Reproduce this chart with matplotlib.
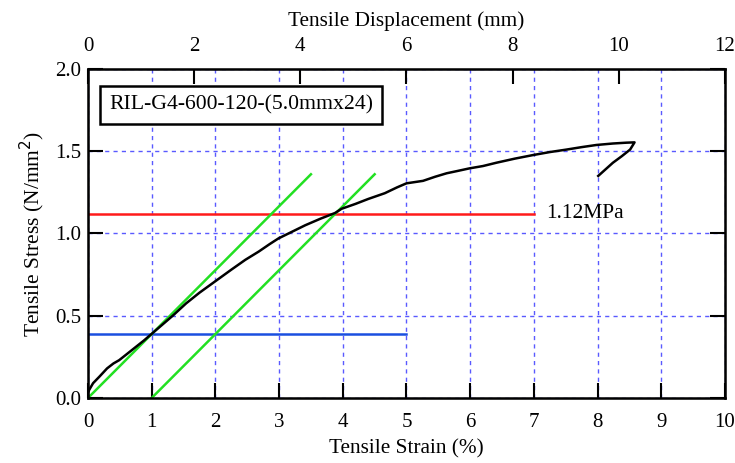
import matplotlib
matplotlib.use("Agg")
import matplotlib.pyplot as plt
import numpy as np

plt.rcParams['font.family'] = ['Liberation Serif', 'DejaVu Serif']

# stress-strain curve
strain = [0.0, 0.0, 0.02, 0.05, 0.08, 0.13, 0.18, 0.3, 0.4, 0.49, 0.62, 0.75, 0.88, 1.0,
          1.15, 1.33, 1.54, 1.75, 2.0, 2.25, 2.47, 2.68, 2.85, 2.99, 3.2, 3.41, 3.65,
          3.88, 3.98, 4.2, 4.4, 4.66, 4.85, 5.0, 5.26, 5.45, 5.63, 5.8, 5.99, 6.2,
          6.41, 6.7, 6.99, 7.25, 7.51, 7.75, 7.98, 8.24, 8.45, 8.58, 8.51, 8.38,
          8.24, 8.01]
stress = [0.0, 0.03, 0.05, 0.07, 0.09, 0.11, 0.13, 0.18, 0.21, 0.23, 0.27, 0.31, 0.35, 0.39,
          0.44, 0.50, 0.575, 0.64, 0.71, 0.78, 0.84, 0.89, 0.935, 0.97, 1.01, 1.05, 1.09,
          1.125, 1.15, 1.18, 1.21, 1.245, 1.28, 1.305, 1.32, 1.345, 1.366, 1.38, 1.396,
          1.41, 1.43, 1.455, 1.477, 1.495, 1.51, 1.525, 1.538, 1.547, 1.552, 1.554, 1.51,
          1.47, 1.43, 1.35]

# reference lines
peak_level = 1.12
peak_end = 7.0
first_level = 0.39
first_end = 5.0
green1_x = [0.0, 3.5]
green1_y = [0.0, 1.36]
green2_x = [1.0, 4.5]
green2_y = [0.0, 1.36]

specimen = 'RIL-G4-600-120-(5.0mmx24)'
peak_label = '1.12MPa'

fig = plt.figure(figsize=(7.35, 4.63), dpi=100)
ax = fig.add_axes([0.1197, 0.1404, 0.8667, 0.7106])

ax.set_xlim(0, 10)
ax.set_ylim(0, 2.0)
ax.set_xticks(np.arange(0, 11, 1))
ax.set_yticks(np.arange(0, 2.01, 0.5))
ax.yaxis.set_major_formatter(matplotlib.ticker.FormatStrFormatter('%.1f'))
ax.grid(True, color='#5a5aff', linestyle=(0, (3, 3)), linewidth=1.0)
ax.tick_params(axis='x', direction='in', length=11, width=1.5, labelsize=15, pad=11)
ax.tick_params(axis='y', direction='in', length=11, width=1.5, labelsize=15,
               right=True, pad=5)
for s in ax.spines.values():
    s.set_linewidth(1.8)

ax.plot([0, peak_end], [peak_level, peak_level], color='#ff1a1a', lw=1.8)
ax.plot([0, first_end], [first_level, first_level], color='#1a4fe0', lw=1.8)
ax.plot(green1_x, green1_y, color='#22e022', lw=1.8)
ax.plot(green2_x, green2_y, color='#22e022', lw=1.8)
ax.plot(strain, stress, color='black', lw=1.8)

ax.text(7.2, peak_level, peak_label, fontsize=15.5, va='center', ha='left')
ax.text(0.33, 1.78, specimen, fontsize=15.7, va='center', ha='left',
        bbox=dict(boxstyle='square,pad=0.42', fc='white', ec='black', lw=1.8))

ax.set_xlabel('Tensile Strain (%)', fontsize=15.3, labelpad=5)
ax.set_ylabel('Tensile Stress (N/mm$^2$)', fontsize=15.5, labelpad=6)

top = ax.twiny()
top.grid(False)
top.set_xlim(0, 12)
top.set_xticks(np.arange(0, 13, 2))
top.tick_params(axis='x', direction='in', length=11, width=1.5, labelsize=15, pad=9)
top.set_xlabel('Tensile Displacement (mm)', fontsize=15.3, labelpad=8)

fig.savefig('out.png', dpi=100)
